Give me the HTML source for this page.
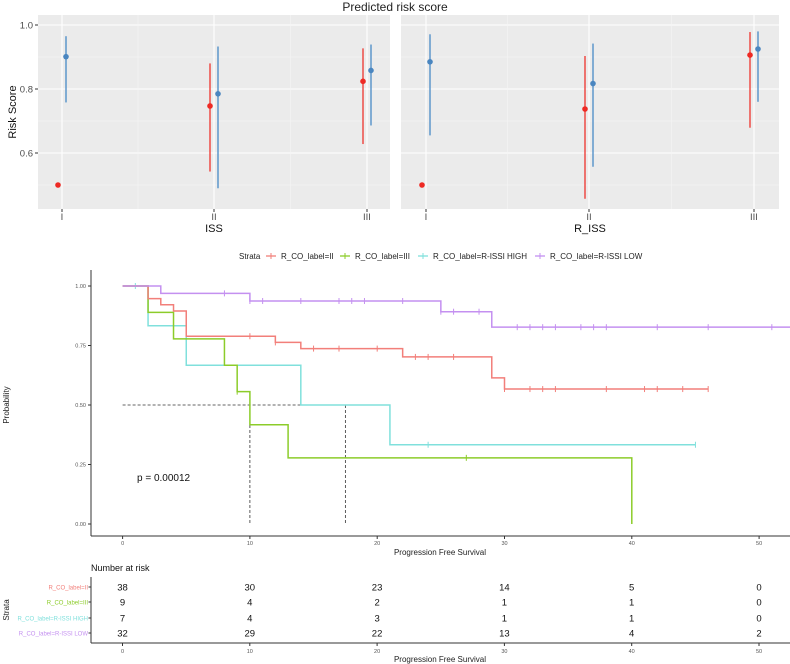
<!DOCTYPE html>
<html><head><meta charset="utf-8"><style>
body{margin:0;background:#fff;width:790px;height:664px;overflow:hidden;font-family:"Liberation Sans",sans-serif}
svg{display:block}
</style></head><body>
<svg id="c" width="790" height="664" xmlns="http://www.w3.org/2000/svg" font-family="Liberation Sans, sans-serif"></svg>
<script>
// ---- Risk score panel data ----
const riskCats = ["I","II","III"];
const issRedMid = [0.5, 0.747, 0.824];
const issRedLo  = [null, 0.542, 0.628];
const issRedHi  = [null, 0.88, 0.927];
const issBlueMid = [0.901, 0.785, 0.858];
const issBlueLo  = [0.758, 0.49, 0.686];
const issBlueHi  = [0.965, 0.933, 0.939];
const rissRedMid = [0.5, 0.7375, 0.906];
const rissRedLo  = [null, 0.457, 0.679];
const rissRedHi  = [null, 0.903, 0.978];
const rissBlueMid = [0.885, 0.817, 0.925];
const rissBlueLo  = [0.655, 0.557, 0.76];
const rissBlueHi  = [0.971, 0.942, 0.98];
const riskTicks = [0.6, 0.8, 1.0];
const riskTickLabels = ["0.6","0.8","1.0"];

// ---- KM data ----
const kmTicks = [0,10,20,30,40,50];
const probTicks = [0,0.25,0.5,0.75,1];
const probTickLabels = ["0.00","0.25","0.50","0.75","1.00"];
const strataNames = ["R_CO_label=II","R_CO_label=III","R_CO_label=R-ISSI HIGH","R_CO_label=R-ISSI LOW"];
const iiTimes = [0,2,3,4,5,12,14,22,29,30,46];
const iiSurv  = [1,0.947,0.921,0.895,0.789,0.763,0.737,0.702,0.614,0.567,0.567];
const iiCens  = [10,12,15,17,20,23,24,26,30,32,33,34,38,41,42,44,46];
const iiiTimes = [0,2,4,8,9,10,13,40,40];
const iiiSurv  = [1,0.889,0.778,0.667,0.556,0.417,0.278,0,0];
const iiiCens  = [9,27];
const highTimes = [0,2,5,14,21,45];
const highSurv  = [1,0.833,0.667,0.5,0.333,0.333];
const highCens  = [1,24,45];
const lowTimes = [0,3,10,25,29,53];
const lowSurv  = [1,0.969,0.937,0.892,0.827,0.827];
const lowCens  = [8,10,11,14,17,18,19,22,25,26,28,31,32,33,34,36,37,38,42,46,51];
const medianTimes = [10,17.5];
const pValue = "p = 0.00012";
// ---- Risk table ----
const riskII   = [38,30,23,14,5,0];
const riskIII  = [9,4,2,1,1,0];
const riskHigh = [7,4,3,1,1,0];
const riskLow  = [32,29,22,13,4,2];

const NS="http://www.w3.org/2000/svg";
const svg=document.getElementById('c');
function el(tag,attrs,parent){const e=document.createElementNS(NS,tag);for(const k in attrs)e.setAttribute(k,attrs[k]);(parent||svg).appendChild(e);return e;}
function txt(s,attrs,parent){const e=el('text',attrs,parent);e.textContent=s;return e;}

const colRed="#F27F7A", colGreen="#8CCC2A", colCyan="#80E0DC", colPurple="#C490F0";

let t=txt("Predicted risk score",{x:395,y:11,"font-size":12,"text-anchor":"middle",fill:"#222"});



function riskPanel(x0,x1,catX,rm,rl,rh,bm,bl,bh,xlabel,showY,name){
  const g=el('g',{});
  
  
  const y=v=>89-(v-0.8)*320;
  const bg=el('rect',{x:x0,y:15,width:x1-x0,height:194,fill:"#EBEBEB"},g);
  
  
  [0.5,0.7,0.9].forEach(v=>el('line',{x1:x0,x2:x1,y1:y(v),y2:y(v),stroke:"#F5F5F5","stroke-width":0.6},g));
  riskTicks.forEach((v,i)=>{
    el('line',{x1:x0,x2:x1,y1:y(v),y2:y(v),stroke:"#fff","stroke-width":1.1},g);
    if(showY){
      el('line',{x1:x0-3,x2:x0,y1:y(v),y2:y(v),stroke:"#333"},g);
      const l=txt(riskTickLabels[i],{x:x0-5,y:y(v)+3.5,"font-size":9.5,"text-anchor":"end",fill:"#4D4D4D"},g);
      
      
    }
  });
  [ (catX[0]+catX[1])/2,(catX[1]+catX[2])/2 ].forEach(cx=>el('line',{x1:cx,x2:cx,y1:15,y2:209,stroke:"#F5F5F5","stroke-width":0.6},g));
  catX.forEach((cx,i)=>{
    el('line',{x1:cx,x2:cx,y1:15,y2:209,stroke:"#fff","stroke-width":1.1},g);
    el('line',{x1:cx,x2:cx,y1:209,y2:212,stroke:"#333"},g);
    const l=txt(riskCats[i],{x:cx,y:220,"font-size":9.5,"text-anchor":"middle",fill:"#4D4D4D"},g);
    
    
  });
  catX.forEach((cx,i)=>{
    const rx=cx-4,bx=cx+4;
    if(rl[i]!==null){const ln=el('line',{x1:rx,x2:rx,y1:y(rl[i]),y2:y(rh[i]),stroke:"#EE3B36","stroke-width":1.6,opacity:0.85},g);
      }
    const rp=el('circle',{cx:rx,cy:y(rm[i]),r:2.8,fill:"#EE2A24"},g);
    
    
    const bln=el('line',{x1:bx,x2:bx,y1:y(bl[i]),y2:y(bh[i]),stroke:"#4F8EC8","stroke-width":1.6,opacity:0.85},g);
    
    
    const bp=el('circle',{cx:bx,cy:y(bm[i]),r:2.8,fill:"#4A86C0"},g);
    
    
  });
  const xl=txt(xlabel,{x:(x0+x1)/2,y:232,"font-size":11,"text-anchor":"middle",fill:"#111"},g);
  
  
}
riskPanel(38,390,[62,214,367],issRedMid,issRedLo,issRedHi,issBlueMid,issBlueLo,issBlueHi,"ISS",true,"iss-panel");
riskPanel(401,779,[426,589,754],rissRedMid,rissRedLo,rissRedHi,rissBlueMid,rissBlueLo,rissBlueHi,"R_ISS",false,"r-iss-panel");
t=txt("Risk Score",{x:0,y:0,"font-size":11,"text-anchor":"middle",fill:"#111",transform:"translate(16,112) rotate(-90)"});



// ---- Legend ----
const legX=[271,345,423,540];
t=txt("Strata",{x:239,y:259,"font-size":8,fill:"#222"});


[colRed,colGreen,colCyan,colPurple].forEach((c,i)=>{
  const g=el('g',{});
  
  
  el('line',{x1:legX[i]-5,x2:legX[i]+5,y1:256,y2:256,stroke:c,"stroke-width":1.3},g);
  el('line',{x1:legX[i],x2:legX[i],y1:253,y2:259,stroke:c,"stroke-width":1},g);
  txt(strataNames[i],{x:legX[i]+10,y:259,"font-size":8,fill:"#222"},g);
});

// ---- KM plot ----
const kx=v=>122.6+v*12.73, ky=v=>524-v*238;
const km=el('g',{});


el('line',{x1:91,x2:91,y1:270,y2:536,stroke:"#333","stroke-width":1},km);
el('line',{x1:91,x2:790,y1:536,y2:536,stroke:"#333","stroke-width":1},km);
probTicks.forEach((v,i)=>{
  el('line',{x1:88,x2:91,y1:ky(v),y2:ky(v),stroke:"#333"},km);
  const l=txt(probTickLabels[i],{x:86,y:ky(v)+2,"font-size":5.5,"text-anchor":"end",fill:"#555"},km);
  
  
});
kmTicks.forEach(v=>{
  el('line',{x1:kx(v),x2:kx(v),y1:536,y2:539,stroke:"#333"},km);
  const l=txt(String(v),{x:kx(v),y:545,"font-size":5.5,"text-anchor":"middle",fill:"#555"},km);
  
  
});
t=txt("Progression Free Survival",{x:440,y:555,"font-size":8,"text-anchor":"middle",fill:"#222"},km);


t=txt("Probability",{x:0,y:0,"font-size":8,"text-anchor":"middle",fill:"#222",transform:"translate(9,405) rotate(-90)"},km);



const mp=el('path',{d:`M${kx(0)},${ky(0.5)}H${kx(medianTimes[1])}`+medianTimes.map(m=>`M${kx(m)},${ky(0.5)}V${ky(0)}`).join(''),stroke:"#333","stroke-width":0.8,"stroke-dasharray":"3,2",fill:"none"},km);



function stepAt(times,surv,c){let s=surv[0];for(let i=0;i<times.length;i++){if(times[i]<=c)s=surv[i];}return s;}
function curve(times,surv,cens,col,name){
  let d=`M${kx(times[0])},${ky(surv[0])}`;
  for(let i=1;i<times.length;i++){d+=`H${kx(times[i])}V${ky(surv[i])}`;}
  const p=el('path',{d,stroke:col,"stroke-width":1.5,fill:"none"},km);
  
  
  cens.forEach(c=>{
    const s=stepAt(times,surv,c);
    const m=el('line',{x1:kx(c),x2:kx(c),y1:ky(s)-3,y2:ky(s)+3,stroke:col,"stroke-width":1},km);
    
    
  });
}
curve(highTimes,highSurv,highCens,colCyan,'curve-r-issi-high');
curve(iiiTimes,iiiSurv,iiiCens,colGreen,'curve-iii');
curve(iiTimes,iiSurv,iiCens,colRed,'curve-ii');
curve(lowTimes,lowSurv,lowCens,colPurple,'curve-r-issi-low');
t=txt(pValue,{x:137,y:481,"font-size":10,fill:"#111"},km);



// ---- Risk table ----
const rt=el('g',{});


const rx=v=>122.5+v*12.73;
t=txt("Number at risk",{x:91,y:571,"font-size":9,fill:"#111"},rt);


el('line',{x1:91,x2:91,y1:577,y2:643,stroke:"#333"},rt);
el('line',{x1:91,x2:790,y1:643,y2:643,stroke:"#333"},rt);
const rowsY=[587,602,618,633];
const rows=[riskII,riskIII,riskHigh,riskLow];
const cols=[colRed,colGreen,colCyan,colPurple];
rows.forEach((r,i)=>{
  const l=txt(strataNames[i],{x:88,y:rowsY[i]+2.5,"font-size":6,"text-anchor":"end",fill:cols[i]},rt);
  
  
  el('line',{x1:88.5,x2:91,y1:rowsY[i],y2:rowsY[i],stroke:"#333"},rt);
  r.forEach((v,j)=>{
    const n=txt(String(v),{x:rx(kmTicks[j]),y:rowsY[i]+3.5,"font-size":9.5,"text-anchor":"middle",fill:"#111"},rt);
    
    
  });
});
kmTicks.forEach(v=>{
  el('line',{x1:rx(v),x2:rx(v),y1:643,y2:646,stroke:"#333"},rt);
  const l=txt(String(v),{x:rx(v),y:653,"font-size":5.5,"text-anchor":"middle",fill:"#555"},rt);
  
  
});
t=txt("Progression Free Survival",{x:440,y:662,"font-size":8,"text-anchor":"middle",fill:"#222"},rt);


t=txt("Strata",{x:0,y:0,"font-size":8,"text-anchor":"middle",fill:"#222",transform:"translate(9,610) rotate(-90)"},rt);


</script>
</body></html>
